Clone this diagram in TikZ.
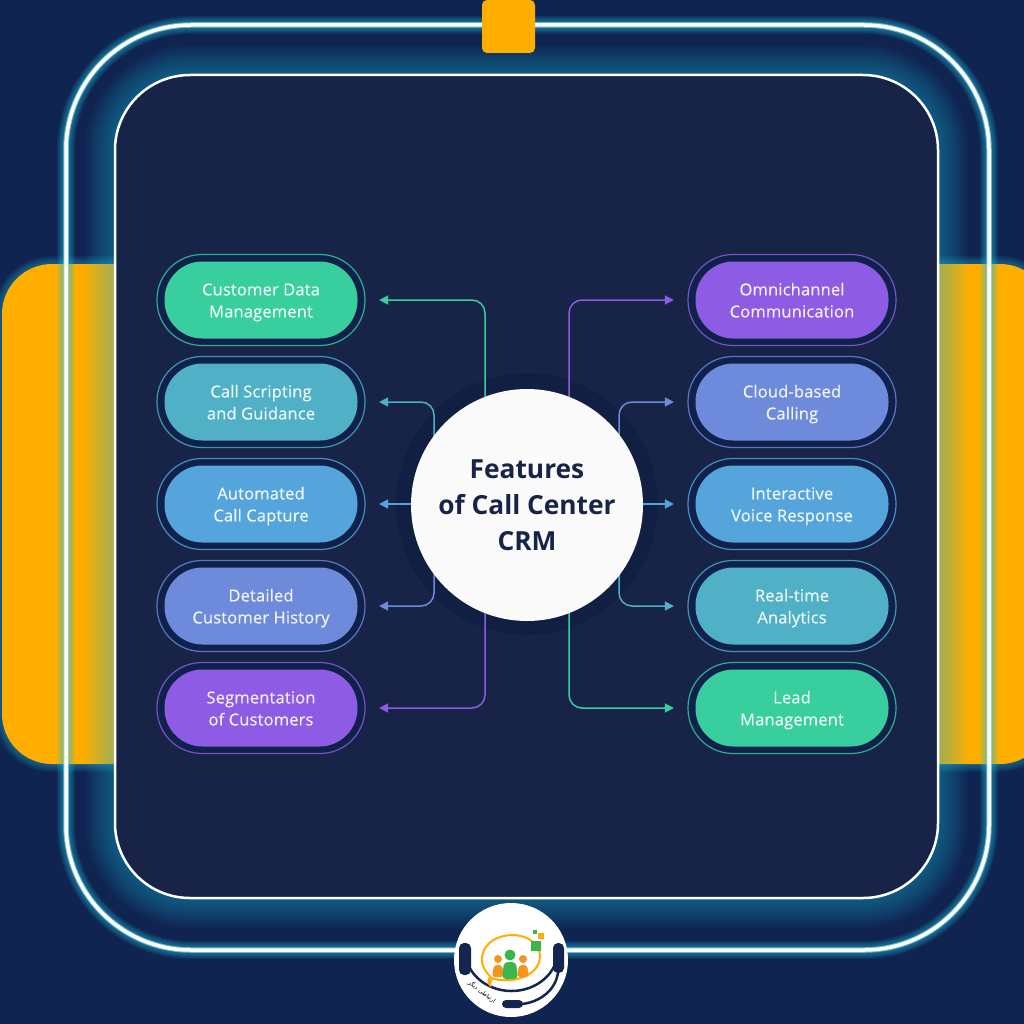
\documentclass[tikz,border=0pt]{standalone}
\usepackage{fontspec}
\setmainfont{Open Sans}
\newfontfamily\arabicfont[Script=Arabic]{DejaVu Sans}
\TeXXeTstate=1
\usetikzlibrary{arrows.meta}
\definecolor{bgc}{HTML}{0F2450}
\definecolor{innerc}{HTML}{182447}
\definecolor{gapc}{HTML}{10224C}
\definecolor{haloc}{HTML}{111F42}
\definecolor{orangec}{HTML}{FFAE00}
\definecolor{glowc}{HTML}{1FC0E0}
\definecolor{greenc}{HTML}{38CE9E}
\definecolor{tealc}{HTML}{4FB0C6}
\definecolor{bluec}{HTML}{55A5DC}
\definecolor{perc}{HTML}{6E8BDB}
\definecolor{purc}{HTML}{8E5BE4}
\definecolor{navyc}{HTML}{14264F}
\definecolor{logogreen}{HTML}{3CB54A}
\definecolor{logoorange}{HTML}{F7941D}
\newcommand{\topstrut}{\rule{0pt}{17.4pt}}
\newcommand{\botstrut}{\rule[-4.6pt]{0pt}{4.6pt}}
\tikzset{
  ringbox/.style={draw=#1!80!gapc,line width=1.2pt,fill=gapc,rounded corners=45pt,minimum width=208pt,minimum height=91pt,inner sep=0pt},
  pillbox/.style={fill=#1,rounded corners=38pt,minimum width=193pt,minimum height=77pt,inner sep=0pt,align=center,text=white!90!#1,font=\fontsize{16.5}{22}\selectfont\addfontfeatures{LetterSpace=1,FakeBold=0.45}},
  link/.style={draw=#1,line width=1.5pt,rounded corners=13pt,-{Triangle[length=9pt,width=9pt,fill=#1]},shorten >=13.5pt},
}
\begin{document}
\begin{tikzpicture}[x=1pt,y=-1pt]
\useasboundingbox (0,0) rectangle (1024,1024);
\clip (0,0) rectangle (1024,1024);
\fill[bgc] (0,0) rectangle (1024,1024);
% orange side panels with glow
\foreach \w in {16,13,10,7,4}{
  \draw[glowc,opacity=.08,line width=\w pt,rounded corners=50pt] (2,764) rectangle (300,264);
  \draw[glowc,opacity=.08,line width=\w pt,rounded corners=50pt] (800,264) rectangle (1050,764);
}
\fill[orangec,rounded corners=50pt] (2,264) rectangle (300,764);
\fill[orangec,rounded corners=50pt] (800,264) rectangle (1050,764);
% glows
\foreach \w in {60,56,52,48,44,40,36,32,28,24,20,16,12,8}{
  \draw[glowc,opacity=.032,line width=\w pt,rounded corners=75pt] (115,75) rectangle (938,898);
}
\foreach \w in {18,16,14,12,10,8,6}{
  \draw[glowc,opacity=.09,line width=\w pt,rounded corners=125pt] (66,25) rectangle (989,950);
}
% panel and rings
\fill[innerc,rounded corners=75pt] (115,75) rectangle (938,898);
\draw[glowc!40!white,opacity=.6,line width=5.5pt,rounded corners=125pt] (66,25) rectangle (989,950);
\draw[white,line width=3.5pt,rounded corners=125pt] (66,25) rectangle (989,950);
\draw[white,line width=2.5pt,rounded corners=75pt] (115,75) rectangle (938,898);
\fill[orangec,rounded corners=5pt] (482,0) rectangle (535,53);
% halo and connectors
\node[circle,fill=haloc,minimum size=262pt,inner sep=0pt] (halo) at (527,504) {};
\foreach \n/\x/\y/\c/\t in {
  p1/261/300/greenc/{Customer Data\\Management},
  p2/261/402/tealc/{Call Scripting\\and Guidance},
  p3/261/504/bluec/{Automated\\Call Capture},
  p4/261/606/perc/{Detailed\\Customer History},
  p5/261/708/purc/{Segmentation\\of Customers},
  q1/792/300/purc/{Omnichannel\\Communication},
  q2/792/402/perc/{Cloud-based\\Calling},
  q3/792/504/bluec/{Interactive\\Voice Response},
  q4/792/606/tealc/{Real-time\\Analytics},
  q5/792/708/greenc/{Lead\\Management}}{
  \node[ringbox=\c] (r\n) at (\x,\y) {};
  \node[pillbox=\c] (\n) at (\x,\y) {\topstrut\t\botstrut};
}
\coordinate (la) at (485,504);
\coordinate (lb) at (434,504);
\coordinate (ra) at (569,504);
\coordinate (rb) at (619,504);
\draw[link=greenc] (la) |- (rp1.east);
\draw[link=tealc] (lb) |- (rp2.east);
\draw[link=bluec] (halo.center) -- (rp3.east);
\draw[link=perc] (lb) |- (rp4.east);
\draw[link=purc] (la) |- (rp5.east);
\draw[link=purc] (ra) |- (rq1.west);
\draw[link=perc] (rb) |- (rq2.west);
\draw[link=bluec] (halo.center) -- (rq3.west);
\draw[link=tealc] (rb) |- (rq4.west);
\draw[link=greenc] (ra) |- (rq5.west);
\node[circle,fill=white!96!gray,minimum size=232pt,inner sep=0pt,align=center,text=innerc,font=\fontsize{26.3}{36}\selectfont\bfseries] (c) at (527,505) {Features\\of Call Center\\CRM};
% logo
\fill[white] (511,960) circle (57);
\draw[navyc,line width=2.5pt] (465,950) arc[start angle=180,end angle=0,x radius=46.5,y radius=41];
\draw[navyc,line width=2.5pt] (558,972) .. controls (556,990) and (540,1002) .. (522,1004);
\fill[navyc,rounded corners=5pt] (459,943) rectangle (471,975);
\fill[navyc,rounded corners=5pt] (553,943) rectangle (564,973);
\fill[navyc,rounded corners=4pt] (502,1000) rectangle (523,1008);
\draw[orangec,line width=2pt] (490,976) .. controls (474,962) and (482,936) .. (512,935) .. controls (528,935) and (540,944) .. (540,957) .. controls (540,972) and (520,982) .. (502,980) .. controls (498,980) and (494,979) .. (492,978) .. controls (491,981) and (490,984) .. (490,985) .. controls (487,983) and (489,979) .. (490,976);
\fill[logoorange] (498,959) circle (4);
\fill[logoorange] (523,959) circle (4);
\fill[logoorange,rounded corners=3pt] (492,977) -- (494,965) -- (502,965) -- (504,977) -- cycle;
\fill[logoorange,rounded corners=3pt] (517,977) -- (519,965) -- (527,965) -- (529,977) -- cycle;
\fill[logogreen] (510,955) circle (5.5);
\fill[logogreen,rounded corners=4pt] (502,979) -- (504,962) -- (516,962) -- (518,979) -- cycle;
\fill[logogreen] (531,941) rectangle (541,951);
\fill[orangec] (538,933) rectangle (544,939);
\fill[logogreen] (533,930) rectangle (537,934);
\node[rotate=-37,font=\arabicfont\fontsize{6}{7}\selectfont,text=black,inner sep=0pt] (logotext) at (482,992) {\beginR ارتباطی دیگر\endR};
\end{tikzpicture}
\end{document}
